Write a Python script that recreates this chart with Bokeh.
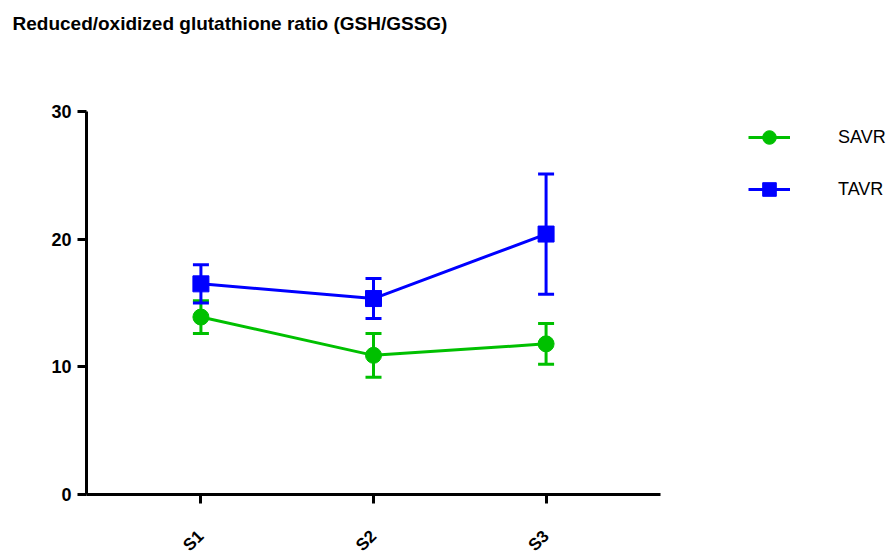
from bokeh.plotting import figure
from bokeh.models import (ColumnDataSource, FactorRange, Range1d, Whisker, TeeHead,
                          Legend, LegendItem, FixedTicker, Title)
from bokeh.embed import file_html
from bokeh.resources import INLINE
import math

title_text = "Reduced/oxidized glutathione ratio (GSH/GSSG)"
stages = ["S1", "S2", "S3"]
savr_mean = [13.9, 10.9, 11.8]
savr_err = [1.28, 1.72, 1.59]
tavr_mean = [16.5, 15.35, 20.4]
tavr_err = [1.5, 1.57, 4.71]
y_ticks = [0, 10, 20, 30]

GREEN = "#00C000"
BLUE = "#0000FF"
FONT = "Liberation Sans"

p = figure(frame_width=574, frame_height=383, output_backend="svg", toolbar_location=None,
           x_range=FactorRange(factors=stages, range_padding=0.163, range_padding_units="absolute"),
           y_range=Range1d(0, 30),
           min_border_left=86, min_border_top=0, min_border_bottom=55, min_border_right=225)
p.outline_line_color = None
p.grid.visible = False
p.background_fill_color = "white"

p.title.text = title_text
p.title.text_font = FONT
p.title.text_font_size = "19px"
p.title.text_font_style = "bold"
p.title.text_color = "black"
p.title.offset = -74
p.title.standoff = 20

spacer = Title(text=" ", text_font_size="10px", standoff=55)
p.add_layout(spacer, "above")

def series(mean, err, color, marker):
    src = ColumnDataSource(dict(x=stages, y=mean,
                                upper=[m + e for m, e in zip(mean, err)],
                                lower=[m - e for m, e in zip(mean, err)]))
    w = Whisker(source=src, base="x", upper="upper", lower="lower",
                line_color=color, line_width=3,
                upper_head=TeeHead(size=16, line_color=color, line_width=3),
                lower_head=TeeHead(size=16, line_color=color, line_width=3))
    p.add_layout(w)
    l = p.line("x", "y", source=src, line_color=color, line_width=3)
    m = p.scatter("x", "y", source=src, marker=marker, size=16,
                  fill_color=color, line_color=color)
    return l, m

l1, m1 = series(savr_mean, savr_err, GREEN, "circle")
l2, m2 = series(tavr_mean, tavr_err, BLUE, "square")

for ax in (p.xaxis[0], p.yaxis[0]):
    ax.axis_line_width = 3
    ax.axis_line_color = "black"
    ax.major_tick_line_width = 3
    ax.major_tick_line_color = "black"
    ax.major_tick_out = 9
    ax.major_tick_in = 0
    ax.minor_tick_line_color = None
    ax.major_label_text_font = FONT
    ax.major_label_text_font_style = "bold"
    ax.major_label_text_color = "black"

p.yaxis[0].ticker = FixedTicker(ticks=y_ticks)
p.yaxis[0].major_label_text_font_size = "18px"
p.yaxis[0].major_label_standoff = 6
p.xaxis[0].major_label_text_font_size = "17px"
p.xaxis[0].major_label_orientation = math.pi / 4
p.xaxis[0].major_label_standoff = 30

legend = Legend(items=[LegendItem(label="SAVR", renderers=[l1, m1]),
                       LegendItem(label="TAVR", renderers=[l2, m2])],
                location=(88, 288), orientation="vertical")
legend.border_line_color = None
legend.background_fill_alpha = 0
legend.padding = 0
legend.margin = 0
legend.glyph_width = 42
legend.glyph_height = 34
legend.label_standoff = 48
legend.spacing = 18
legend.label_text_font = FONT
legend.label_text_font_size = "18px"
legend.label_text_color = "black"
p.add_layout(legend, "right")

open("out.html", "w").write(file_html(p, INLINE))
